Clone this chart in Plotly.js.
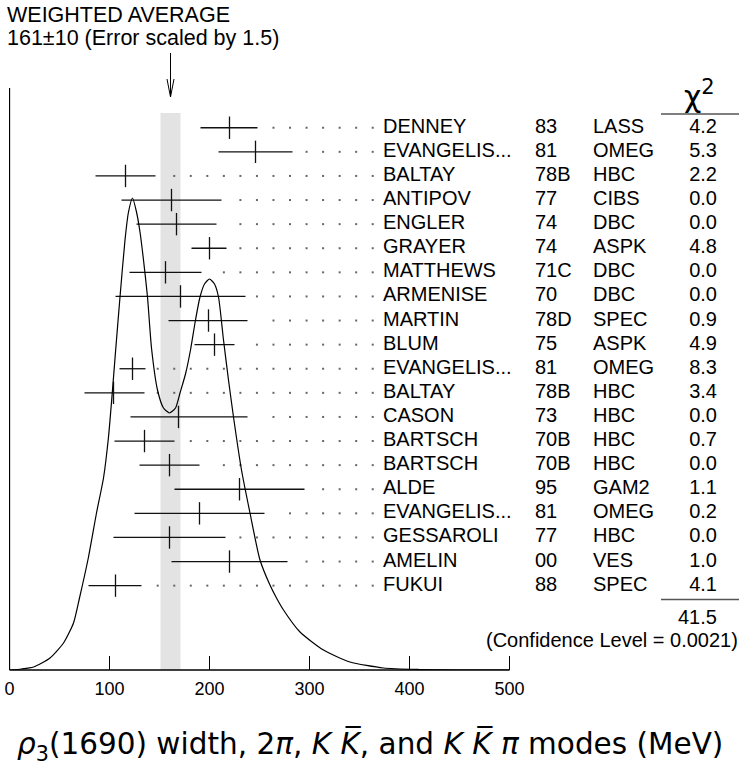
<!DOCTYPE html>
<html><head><meta charset="utf-8">
<script src="https://cdn.plot.ly/plotly-3.0.1.min.js"></script>
<style>html,body{margin:0;padding:0;background:#fff}</style>
</head><body><div id="chart" style="width:739px;height:769px"></div>
<script>
// ---- data ----
const authors = ["DENNEY","EVANGELIS...","BALTAY","ANTIPOV","ENGLER","GRAYER","MATTHEWS","ARMENISE","MARTIN","BLUM","EVANGELIS...","BALTAY","CASON","BARTSCH","BARTSCH","ALDE","EVANGELIS...","GESSAROLI","AMELIN","FUKUI"];
const years = ["83","81","78B","77","74","74","71C","70","78D","75","81","78B","73","70B","70B","95","81","77","00","88"];
const experiments = ["LASS","OMEG","HBC","CIBS","DBC","ASPK","DBC","DBC","SPEC","ASPK","OMEG","HBC","HBC","HBC","HBC","GAM2","OMEG","HBC","VES","SPEC"];
const chi2 = ["4.2","5.3","2.2","0.0","0.0","4.8","0.0","0.0","0.9","4.9","8.3","3.4","0.0","0.7","0.0","1.1","0.2","0.0","1.0","4.1"];
const values   = [220,246,116,162,167,200,156,171,199,205,123,104,169,135,160,230,190,160,220,106];
const errMinus = [ 29, 37, 30, 50, 40, 18, 36, 65, 40, 20, 13, 29, 48, 30, 30, 65, 65, 56, 58, 27];
const errPlus  = [ 28, 37, 30, 50, 40, 17, 36, 65, 39, 20, 13, 31, 69, 30, 30, 65, 65, 56, 58, 26];
const avgValue = 161, avgError = 10, errScale = "1.5";
const chi2Total = "41.5", confidenceLevel = "0.0021";
const tickValues = [0,100,200,300,400,500];
// ideogram curve (x in MeV, height in arbitrary units)
const curveX = [0,12,24,40.5,54,64,70,79,87,94,99,103,106,110.5,115.5,119,123,127,130.5,134,138,142,148,154,160,166,170.5,176,181,186,190.5,195,200,205,209,214,219,224,232,240.5,250.5,260,267,274,290.5,314,340.5,374,410,450,500];
const curveH = [0,1,3,12,27,47,72,113,157,192,233,280,318,373,430,458,472,458,438,410,373,322,280,262,257,262,277,296,320,350,373,386,391,386,373,330,290,253,200,157,110,86,72,60,38,20,8,2,0.5,0,0];

// ---- derived ----
const nRows = authors.length;
const rowY = authors.map((_, i) => 22.5 - i);
const barHi = values.map((v, i) => v + errPlus[i]);
const dotX = [], dotY = [];
for (let i = 0; i < nRows; i++) {
  for (let g = 131.66; g <= 364; g += 16.54) {
    if (g > barHi[i] + 10) { dotX.push(g); dotY.push(rowY[i]); }
  }
}
const FONT = "Liberation Sans, Arial, Helvetica, sans-serif";
const txtFont = {family: FONT, size: 20, color: "#000"};
const pyPx = px => (670 - px) / 670;      // pixel row -> paper y
const pxX = px => (px - 9) / 730;         // pixel col -> paper x

const traces = [
  {x: curveX, y: curveH, yaxis: "y2", mode: "lines", hoverinfo: "skip",
   line: {color: "#000", width: 1.2, shape: "spline", smoothing: 0.6}},
  {x: dotX, y: dotY, mode: "markers", hoverinfo: "skip",
   marker: {symbol: "square", size: 2, color: "#666", line: {width: 0}}},
  {x: values, y: rowY, mode: "markers", hoverinfo: "skip",
   marker: {symbol: "line-ns", size: 16, color: "#111", line: {width: 1.3, color: "#111"}},
   error_x: {type: "data", symmetric: false, array: errPlus, arrayminus: errMinus,
             width: 0, thickness: 1.3, color: "#111"}},
  {x: authors.map(() => 373.5), y: rowY, text: authors, mode: "text", textposition: "middle right", textfont: txtFont, hoverinfo: "skip"},
  {x: years.map(() => 525.5), y: rowY, text: years, mode: "text", textposition: "middle right", textfont: txtFont, hoverinfo: "skip"},
  {x: experiments.map(() => 583.5), y: rowY, text: experiments, mode: "text", textposition: "middle right", textfont: txtFont, hoverinfo: "skip"},
  {x: chi2.map(() => 707.5), y: rowY, text: chi2, mode: "text", textposition: "middle left", textfont: txtFont, hoverinfo: "skip"}
];

const shapes = [
  {type: "rect", layer: "below", xref: "x", yref: "paper", x0: avgValue - avgError, x1: avgValue + avgError,
   y0: 0, y1: pyPx(113), fillcolor: "#e3e3e3", line: {width: 0}},
  {type: "line", xref: "x", yref: "paper", x0: 0, x1: 0, y0: 0, y1: pyPx(88), line: {color: "#000", width: 1.3}},
  {type: "line", xref: "x", yref: "paper", x0: 0, x1: 500, y0: 0, y1: 0, line: {color: "#000", width: 1.3}},
  {type: "line", xref: "paper", yref: "paper", x0: pxX(661), x1: 1, y0: pyPx(114), y1: pyPx(114), line: {color: "#555", width: 1.3}},
  {type: "line", xref: "paper", yref: "paper", x0: pxX(661), x1: 1, y0: pyPx(599.5), y1: pyPx(599.5), line: {color: "#555", width: 1.3}},
  {type: "line", xref: "x", yref: "paper", x0: avgValue, x1: avgValue, y0: pyPx(53), y1: pyPx(97), line: {color: "#000", width: 1}},
  {type: "line", xref: "x", yref: "paper", x0: avgValue - 3.5, x1: avgValue, y0: pyPx(79), y1: pyPx(97), line: {color: "#000", width: 1}},
  {type: "line", xref: "x", yref: "paper", x0: avgValue + 3.5, x1: avgValue, y0: pyPx(79), y1: pyPx(97), line: {color: "#000", width: 1}}
];

const annotations = [
  {xref: "paper", yref: "paper", x: pxX(5), y: pyPx(15), xanchor: "left", yanchor: "middle", showarrow: false,
   text: "WEIGHTED AVERAGE", font: {family: FONT, size: 21.5, color: "#000"}},
  {xref: "paper", yref: "paper", x: pxX(5), y: pyPx(38), xanchor: "left", yanchor: "middle", showarrow: false,
   text: avgValue + "±" + avgError + " (Error scaled by " + errScale + ")", font: {family: FONT, size: 21.5, color: "#000"}},
  {xref: "paper", yref: "paper", x: pxX(699), y: pyPx(95), xanchor: "center", yanchor: "middle", showarrow: false,
   text: "χ<sup>2</sup>", font: {family: "DejaVu Sans, sans-serif", size: 30, color: "#000"}},
  {xref: "paper", yref: "paper", x: pxX(719), y: pyPx(617), xanchor: "right", yanchor: "middle", showarrow: false,
   text: chi2Total, font: txtFont},
  {xref: "paper", yref: "paper", x: pxX(740), y: pyPx(640), xanchor: "right", yanchor: "middle", showarrow: false,
   text: "(Confidence Level = " + confidenceLevel + ")", font: txtFont},
  {xref: "paper", yref: "paper", x: pxX(370), y: pyPx(745), xanchor: "center", yanchor: "middle", showarrow: false,
   text: "<i>ρ</i><sub>3</sub>(1690) width, 2<i>π</i>, <i>K</i> <i>K\u0305</i>, and <i>K</i> <i>K\u0305</i> <i>π</i> modes (MeV)",
   font: {family: "DejaVu Sans, sans-serif", size: 29.5, color: "#000"}}
];

const layout = {
  width: 739, height: 769,
  margin: {l: 9, r: 0, t: 0, b: 99, pad: 0},
  paper_bgcolor: "#fff", plot_bgcolor: "#fff",
  showlegend: false,
  xaxis: {range: [-0.5, 729.5], showgrid: false, zeroline: false, showline: false,
          tickmode: "array", tickvals: tickValues, ticktext: tickValues.map(String),
          ticks: "inside", ticklen: 14, tickwidth: 1.2, tickcolor: "#000",
          tickfont: {family: FONT, size: 18, color: "#000"}, ticklabelstandoff: 6, fixedrange: true},
  yaxis: {range: [0, 27.8], visible: false, fixedrange: true},
  yaxis2: {range: [0, 670], overlaying: "y", visible: false, fixedrange: true},
  shapes: shapes,
  annotations: annotations
};

Plotly.newPlot("chart", traces, layout, {staticPlot: true, displayModeBar: false});
</script></body></html>
